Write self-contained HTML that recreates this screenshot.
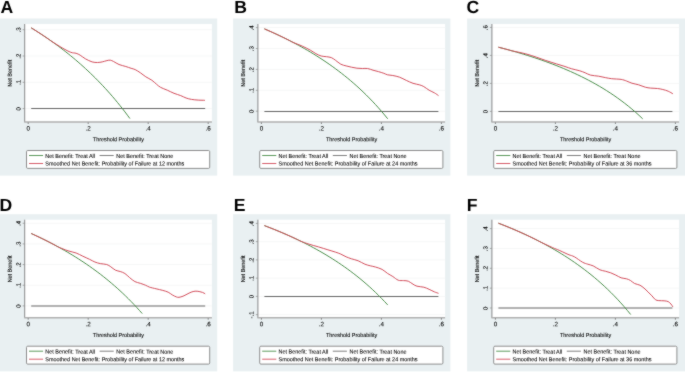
<!DOCTYPE html><html><head><meta charset="utf-8"><style>html,body{margin:0;padding:0;background:#fff;}svg{display:block;will-change:transform;}text{font-family:"Liberation Sans", sans-serif;text-rendering:geometricPrecision;stroke:#000;stroke-width:0.08px;}</style></head><body>
<svg width="685" height="372" viewBox="0 0 685 372">
<defs><filter id="soft" filterUnits="userSpaceOnUse" x="0" y="0" width="685" height="372" color-interpolation-filters="sRGB"><feConvolveMatrix order="3" kernelMatrix="1 2 1 2 20 2 1 2 1" edgeMode="duplicate" preserveAlpha="true"/></filter></defs><g filter="url(#soft)">
<rect x="0" y="0" width="685" height="372" fill="#fff"/>
<g><rect x="-0.10" y="18.50" width="217.3" height="157.1" fill="#e9f0f2"/><rect x="25.00" y="24.00" width="186.90" height="97.60" fill="#fff"/><line x1="25.00" y1="108.60" x2="211.90" y2="108.60" stroke="#f6f7f7" stroke-width="1"/><line x1="25.00" y1="82.30" x2="211.90" y2="82.30" stroke="#f6f7f7" stroke-width="1"/><line x1="25.00" y1="56.00" x2="211.90" y2="56.00" stroke="#f6f7f7" stroke-width="1"/><line x1="25.00" y1="29.70" x2="211.90" y2="29.70" stroke="#f6f7f7" stroke-width="1"/><line x1="31.20" y1="108.50" x2="205.20" y2="108.50" stroke="#666" stroke-width="1.0"/><polyline points="31.20,27.84 33.67,29.37 36.13,30.92 38.60,32.50 41.07,34.10 43.54,35.74 46.01,37.40 48.47,39.09 50.94,40.82 53.41,42.57 55.88,44.35 58.34,46.17 60.81,48.02 63.28,49.91 65.75,51.83 68.21,53.78 70.68,55.78 73.15,57.81 75.62,59.89 78.08,62.00 80.55,64.16 83.02,66.36 85.48,68.60 87.95,70.89 90.42,73.23 92.89,75.61 95.36,78.05 97.82,80.54 100.29,83.09 102.76,85.69 105.23,88.34 107.69,91.06 110.16,93.84 112.63,96.68 115.10,99.58 117.56,102.56 120.03,105.61 122.50,108.72 124.97,111.92 127.43,115.19 129.90,118.55" fill="none" stroke="#4a8e4a" stroke-width="1.0"/><path d="M31.20,27.84 C31.63,28.11 32.93,28.91 33.80,29.45 C34.67,29.99 35.53,30.54 36.40,31.09 C37.27,31.64 38.13,32.19 39.00,32.76 C39.87,33.32 40.73,33.88 41.60,34.45 C42.47,35.02 43.33,35.60 44.20,36.18 C45.07,36.76 45.93,37.35 46.80,37.94 C47.67,38.54 48.53,39.13 49.40,39.74 C50.27,40.34 49.78,40.15 52.00,41.56 C54.22,42.98 59.57,46.41 62.70,48.20 C65.83,49.99 68.57,51.45 70.80,52.30 C73.03,53.15 74.53,52.82 76.10,53.30 C77.67,53.78 78.65,54.28 80.20,55.20 C81.75,56.12 83.42,57.68 85.40,58.80 C87.38,59.92 90.08,61.28 92.10,61.90 C94.12,62.52 95.82,62.50 97.50,62.50 C99.18,62.50 100.63,62.22 102.20,61.90 C103.77,61.58 105.55,60.88 106.90,60.60 C108.25,60.32 109.18,60.05 110.30,60.20 C111.42,60.35 112.15,60.78 113.60,61.50 C115.05,62.22 116.97,63.67 119.00,64.50 C121.03,65.33 123.78,65.87 125.80,66.50 C127.82,67.13 129.53,67.78 131.10,68.30 C132.67,68.82 133.65,68.85 135.20,69.60 C136.75,70.35 138.63,71.60 140.40,72.80 C142.17,74.00 143.90,75.57 145.80,76.80 C147.70,78.03 150.02,78.97 151.80,80.20 C153.58,81.43 155.05,83.02 156.50,84.20 C157.95,85.38 158.70,86.30 160.50,87.30 C162.30,88.30 165.05,89.20 167.30,90.20 C169.55,91.20 171.77,92.40 174.00,93.30 C176.23,94.20 178.68,94.82 180.70,95.60 C182.72,96.38 184.30,97.37 186.10,98.00 C187.90,98.63 189.48,99.05 191.50,99.40 C193.52,99.75 195.97,99.95 198.20,100.10 C200.43,100.25 203.78,100.27 204.90,100.30" fill="none" stroke="#d24c5a" stroke-width="1.0"/><line x1="24.70" y1="24.00" x2="24.70" y2="122.10" stroke="#8a8a8a" stroke-width="1"/><line x1="24.20" y1="122.00" x2="211.90" y2="122.00" stroke="#b0b0b0" stroke-width="1.6"/><line x1="22.60" y1="108.60" x2="24.70" y2="108.60" stroke="#8a8a8a" stroke-width="0.7"/><text x="0" y="0" transform="translate(20.40,108.80) rotate(-89.95)" font-size="6.1" text-anchor="middle" fill="#000">0</text><line x1="22.60" y1="82.30" x2="24.70" y2="82.30" stroke="#8a8a8a" stroke-width="0.7"/><text x="0" y="0" transform="translate(20.40,82.50) rotate(-89.95)" font-size="6.1" text-anchor="middle" fill="#000">.1</text><line x1="22.60" y1="56.00" x2="24.70" y2="56.00" stroke="#8a8a8a" stroke-width="0.7"/><text x="0" y="0" transform="translate(20.40,56.20) rotate(-89.95)" font-size="6.1" text-anchor="middle" fill="#000">.2</text><line x1="22.60" y1="29.70" x2="24.70" y2="29.70" stroke="#8a8a8a" stroke-width="0.7"/><text x="0" y="0" transform="translate(20.40,29.90) rotate(-89.95)" font-size="6.1" text-anchor="middle" fill="#000">.3</text><line x1="28.20" y1="122.40" x2="28.20" y2="124.00" stroke="#6a6a6a" stroke-width="0.8"/><text x="0" y="0" transform="translate(28.20,130.60) rotate(0.05)" font-size="6.3" text-anchor="middle" fill="#000">0</text><line x1="88.20" y1="122.40" x2="88.20" y2="124.00" stroke="#6a6a6a" stroke-width="0.8"/><text x="0" y="0" transform="translate(88.20,130.60) rotate(0.05)" font-size="6.3" text-anchor="middle" fill="#000">.2</text><line x1="148.20" y1="122.40" x2="148.20" y2="124.00" stroke="#6a6a6a" stroke-width="0.8"/><text x="0" y="0" transform="translate(148.20,130.60) rotate(0.05)" font-size="6.3" text-anchor="middle" fill="#000">.4</text><line x1="208.20" y1="122.40" x2="208.20" y2="124.00" stroke="#6a6a6a" stroke-width="0.8"/><text x="0" y="0" transform="translate(208.20,130.60) rotate(0.05)" font-size="6.3" text-anchor="middle" fill="#000">.6</text><text x="0" y="0" transform="translate(118.40,141.30) rotate(0.05)" font-size="5.8" text-anchor="middle" fill="#000" textLength="51.20" lengthAdjust="spacingAndGlyphs">Threshold Probability</text><text x="0" y="0" transform="translate(11.80,73.20) rotate(-89.95)" font-size="5.8" text-anchor="middle" fill="#000" textLength="26.96" lengthAdjust="spacingAndGlyphs">Net Benefit</text><rect x="26.50" y="150.50" width="183.20" height="17.90" rx="1.2" fill="#fff" stroke="#8e8e8e" stroke-width="1"/><line x1="29.00" y1="155.50" x2="43.10" y2="155.50" stroke="#4a8e4a" stroke-width="0.9"/><line x1="99.60" y1="155.50" x2="113.70" y2="155.50" stroke="#727272" stroke-width="0.9"/><line x1="29.00" y1="163.50" x2="43.10" y2="163.50" stroke="#d24c5a" stroke-width="0.9"/><text x="0" y="0" transform="translate(45.30,157.90) rotate(0.05)" font-size="5.8" text-anchor="start" fill="#000" textLength="49.68" lengthAdjust="spacingAndGlyphs">Net Benefit: Treat All</text><text x="0" y="0" transform="translate(116.30,157.90) rotate(0.05)" font-size="5.8" text-anchor="start" fill="#000" textLength="56.95" lengthAdjust="spacingAndGlyphs">Net Benefit: Treat None</text><text x="0" y="0" transform="translate(45.30,165.50) rotate(0.05)" font-size="5.8" text-anchor="start" fill="#000" textLength="139.05" lengthAdjust="spacingAndGlyphs">Smoothed Net Benefit: Probability of Failure at 12 months</text><text x="0.40" y="12.90" font-size="17.6" font-weight="bold" fill="#000" style="stroke:none">A</text></g>
<g><rect x="233.10" y="18.50" width="217.3" height="157.1" fill="#e9f0f2"/><rect x="258.20" y="24.00" width="186.90" height="97.60" fill="#fff"/><line x1="258.20" y1="111.20" x2="445.10" y2="111.20" stroke="#f6f7f7" stroke-width="1"/><line x1="258.20" y1="90.30" x2="445.10" y2="90.30" stroke="#f6f7f7" stroke-width="1"/><line x1="258.20" y1="69.40" x2="445.10" y2="69.40" stroke="#f6f7f7" stroke-width="1"/><line x1="258.20" y1="48.50" x2="445.10" y2="48.50" stroke="#f6f7f7" stroke-width="1"/><line x1="258.20" y1="27.60" x2="445.10" y2="27.60" stroke="#f6f7f7" stroke-width="1"/><line x1="264.40" y1="111.50" x2="438.40" y2="111.50" stroke="#666" stroke-width="1.0"/><polyline points="264.40,28.87 267.48,30.20 270.56,31.55 273.65,32.94 276.73,34.35 279.81,35.80 282.89,37.28 285.98,38.79 289.06,40.34 292.14,41.92 295.22,43.54 298.31,45.19 301.39,46.89 304.47,48.62 307.55,50.40 310.64,52.22 313.72,54.09 316.80,56.00 319.88,57.97 322.97,59.98 326.05,62.05 329.13,64.17 332.21,66.35 335.30,68.58 338.38,70.88 341.46,73.25 344.54,75.68 347.63,78.18 350.71,80.76 353.79,83.41 356.88,86.14 359.96,88.95 363.04,91.86 366.12,94.85 369.20,97.94 372.29,101.13 375.37,104.43 378.45,107.83 381.53,111.36 384.62,115.00 387.70,118.78" fill="none" stroke="#4a8e4a" stroke-width="1.0"/><path d="M264.40,28.87 C265.00,29.12 266.78,29.89 267.97,30.41 C269.17,30.93 270.36,31.46 271.55,31.99 C272.74,32.52 273.93,33.06 275.12,33.61 C276.32,34.16 277.51,34.71 278.70,35.27 C279.89,35.83 281.08,36.40 282.27,36.98 C283.47,37.55 284.66,38.14 285.85,38.73 C287.04,39.32 288.23,39.92 289.43,40.52 C290.62,41.13 290.84,41.42 293.00,42.36 C295.16,43.31 299.50,44.89 302.40,46.20 C305.30,47.51 308.17,48.97 310.40,50.20 C312.63,51.43 314.00,52.63 315.80,53.60 C317.60,54.57 319.42,55.48 321.20,56.00 C322.98,56.52 324.82,56.43 326.50,56.70 C328.18,56.97 329.82,57.02 331.30,57.60 C332.78,58.18 333.82,59.10 335.40,60.20 C336.98,61.30 339.02,63.25 340.80,64.20 C342.58,65.15 344.32,65.40 346.10,65.90 C347.88,66.40 349.70,66.82 351.50,67.20 C353.30,67.58 355.10,67.98 356.90,68.20 C358.70,68.42 360.52,68.45 362.30,68.50 C364.08,68.55 365.82,68.22 367.60,68.50 C369.38,68.78 371.20,69.68 373.00,70.20 C374.80,70.72 376.60,71.08 378.40,71.60 C380.20,72.12 382.28,72.77 383.80,73.30 C385.32,73.83 386.00,74.43 387.50,74.80 C389.00,75.17 390.78,75.10 392.80,75.50 C394.82,75.90 397.35,76.38 399.60,77.20 C401.85,78.02 404.07,79.38 406.30,80.40 C408.53,81.42 410.77,82.55 413.00,83.30 C415.23,84.05 417.90,84.35 419.70,84.90 C421.50,85.45 422.23,85.72 423.80,86.60 C425.37,87.48 427.32,89.15 429.10,90.20 C430.88,91.25 432.93,92.00 434.50,92.90 C436.07,93.80 437.83,95.15 438.50,95.60" fill="none" stroke="#d24c5a" stroke-width="1.0"/><line x1="257.90" y1="24.00" x2="257.90" y2="122.10" stroke="#8a8a8a" stroke-width="1"/><line x1="257.40" y1="122.00" x2="445.10" y2="122.00" stroke="#b0b0b0" stroke-width="1.6"/><line x1="255.80" y1="111.20" x2="257.90" y2="111.20" stroke="#8a8a8a" stroke-width="0.7"/><text x="0" y="0" transform="translate(253.60,111.40) rotate(-89.95)" font-size="6.1" text-anchor="middle" fill="#000">0</text><line x1="255.80" y1="90.30" x2="257.90" y2="90.30" stroke="#8a8a8a" stroke-width="0.7"/><text x="0" y="0" transform="translate(253.60,90.50) rotate(-89.95)" font-size="6.1" text-anchor="middle" fill="#000">.1</text><line x1="255.80" y1="69.40" x2="257.90" y2="69.40" stroke="#8a8a8a" stroke-width="0.7"/><text x="0" y="0" transform="translate(253.60,69.60) rotate(-89.95)" font-size="6.1" text-anchor="middle" fill="#000">.2</text><line x1="255.80" y1="48.50" x2="257.90" y2="48.50" stroke="#8a8a8a" stroke-width="0.7"/><text x="0" y="0" transform="translate(253.60,48.70) rotate(-89.95)" font-size="6.1" text-anchor="middle" fill="#000">.3</text><line x1="255.80" y1="27.60" x2="257.90" y2="27.60" stroke="#8a8a8a" stroke-width="0.7"/><text x="0" y="0" transform="translate(253.60,27.80) rotate(-89.95)" font-size="6.1" text-anchor="middle" fill="#000">.4</text><line x1="261.40" y1="122.40" x2="261.40" y2="124.00" stroke="#6a6a6a" stroke-width="0.8"/><text x="0" y="0" transform="translate(261.40,130.60) rotate(0.05)" font-size="6.3" text-anchor="middle" fill="#000">0</text><line x1="321.40" y1="122.40" x2="321.40" y2="124.00" stroke="#6a6a6a" stroke-width="0.8"/><text x="0" y="0" transform="translate(321.40,130.60) rotate(0.05)" font-size="6.3" text-anchor="middle" fill="#000">.2</text><line x1="381.40" y1="122.40" x2="381.40" y2="124.00" stroke="#6a6a6a" stroke-width="0.8"/><text x="0" y="0" transform="translate(381.40,130.60) rotate(0.05)" font-size="6.3" text-anchor="middle" fill="#000">.4</text><line x1="441.40" y1="122.40" x2="441.40" y2="124.00" stroke="#6a6a6a" stroke-width="0.8"/><text x="0" y="0" transform="translate(441.40,130.60) rotate(0.05)" font-size="6.3" text-anchor="middle" fill="#000">.6</text><text x="0" y="0" transform="translate(351.60,141.30) rotate(0.05)" font-size="5.8" text-anchor="middle" fill="#000" textLength="51.20" lengthAdjust="spacingAndGlyphs">Threshold Probability</text><text x="0" y="0" transform="translate(245.00,73.20) rotate(-89.95)" font-size="5.8" text-anchor="middle" fill="#000" textLength="26.96" lengthAdjust="spacingAndGlyphs">Net Benefit</text><rect x="259.70" y="150.50" width="183.20" height="17.90" rx="1.2" fill="#fff" stroke="#8e8e8e" stroke-width="1"/><line x1="262.20" y1="155.50" x2="276.30" y2="155.50" stroke="#4a8e4a" stroke-width="0.9"/><line x1="332.80" y1="155.50" x2="346.90" y2="155.50" stroke="#727272" stroke-width="0.9"/><line x1="262.20" y1="163.50" x2="276.30" y2="163.50" stroke="#d24c5a" stroke-width="0.9"/><text x="0" y="0" transform="translate(278.50,157.90) rotate(0.05)" font-size="5.8" text-anchor="start" fill="#000" textLength="49.68" lengthAdjust="spacingAndGlyphs">Net Benefit: Treat All</text><text x="0" y="0" transform="translate(349.50,157.90) rotate(0.05)" font-size="5.8" text-anchor="start" fill="#000" textLength="56.95" lengthAdjust="spacingAndGlyphs">Net Benefit: Treat None</text><text x="0" y="0" transform="translate(278.50,165.50) rotate(0.05)" font-size="5.8" text-anchor="start" fill="#000" textLength="139.05" lengthAdjust="spacingAndGlyphs">Smoothed Net Benefit: Probability of Failure at 24 months</text><text x="234.20" y="12.90" font-size="17.6" font-weight="bold" fill="#000" style="stroke:none">B</text></g>
<g><rect x="467.10" y="18.50" width="220" height="157.1" fill="#e9f0f2"/><rect x="492.20" y="24.00" width="186.90" height="97.60" fill="#fff"/><line x1="492.20" y1="111.40" x2="679.10" y2="111.40" stroke="#f6f7f7" stroke-width="1"/><line x1="492.20" y1="83.40" x2="679.10" y2="83.40" stroke="#f6f7f7" stroke-width="1"/><line x1="492.20" y1="55.40" x2="679.10" y2="55.40" stroke="#f6f7f7" stroke-width="1"/><line x1="492.20" y1="27.40" x2="679.10" y2="27.40" stroke="#f6f7f7" stroke-width="1"/><line x1="498.40" y1="111.50" x2="672.40" y2="111.50" stroke="#666" stroke-width="1.0"/><polyline points="498.40,47.20 502.01,48.13 505.61,49.09 509.22,50.06 512.83,51.07 516.44,52.10 520.04,53.16 523.65,54.24 527.26,55.36 530.87,56.50 534.48,57.68 538.08,58.89 541.69,60.13 545.30,61.41 548.90,62.73 552.51,64.08 556.12,65.48 559.73,66.92 563.34,68.41 566.94,69.94 570.55,71.52 574.16,73.15 577.76,74.84 581.37,76.58 584.98,78.39 588.59,80.25 592.19,82.18 595.80,84.19 599.41,86.26 603.02,88.42 606.62,90.65 610.23,92.98 613.84,95.39 617.45,97.91 621.05,100.52 624.66,103.25 628.27,106.10 631.88,109.07 635.48,112.17 639.09,115.42 642.70,118.83" fill="none" stroke="#4a8e4a" stroke-width="1.0"/><path d="M498.40,47.20 C498.68,47.27 499.53,47.49 500.10,47.63 C500.67,47.78 501.23,47.93 501.80,48.08 C502.37,48.22 502.93,48.37 503.50,48.52 C504.07,48.67 504.63,48.82 505.20,48.97 C505.77,49.13 506.33,49.28 506.90,49.43 C507.47,49.58 508.03,49.74 508.60,49.89 C509.17,50.05 509.73,50.20 510.30,50.36 C510.87,50.52 509.45,50.26 512.00,50.84 C514.55,51.41 521.53,52.74 525.60,53.80 C529.67,54.86 533.03,56.08 536.40,57.20 C539.77,58.32 542.45,59.38 545.80,60.50 C549.15,61.62 553.30,62.90 556.50,63.90 C559.70,64.90 562.47,65.68 565.00,66.50 C567.53,67.32 569.23,68.08 571.70,68.80 C574.17,69.52 577.55,70.13 579.80,70.80 C582.05,71.47 583.42,72.08 585.20,72.80 C586.98,73.52 588.27,74.53 590.50,75.10 C592.73,75.67 596.13,75.78 598.60,76.20 C601.07,76.62 603.12,77.18 605.30,77.60 C607.48,78.02 609.07,78.40 611.70,78.70 C614.33,79.00 618.63,79.02 621.10,79.40 C623.57,79.78 624.70,80.37 626.50,81.00 C628.30,81.63 629.88,82.57 631.90,83.20 C633.92,83.83 636.37,84.13 638.60,84.80 C640.83,85.47 643.28,86.65 645.30,87.20 C647.32,87.75 648.68,87.88 650.70,88.10 C652.72,88.32 655.38,88.27 657.40,88.50 C659.42,88.73 661.00,89.05 662.80,89.50 C664.60,89.95 666.52,90.48 668.20,91.20 C669.88,91.92 672.12,93.37 672.90,93.80" fill="none" stroke="#d24c5a" stroke-width="1.0"/><line x1="491.90" y1="24.00" x2="491.90" y2="122.10" stroke="#8a8a8a" stroke-width="1"/><line x1="491.40" y1="122.00" x2="679.10" y2="122.00" stroke="#b0b0b0" stroke-width="1.6"/><line x1="489.80" y1="111.40" x2="491.90" y2="111.40" stroke="#8a8a8a" stroke-width="0.7"/><text x="0" y="0" transform="translate(487.60,111.60) rotate(-89.95)" font-size="6.1" text-anchor="middle" fill="#000">0</text><line x1="489.80" y1="83.40" x2="491.90" y2="83.40" stroke="#8a8a8a" stroke-width="0.7"/><text x="0" y="0" transform="translate(487.60,83.60) rotate(-89.95)" font-size="6.1" text-anchor="middle" fill="#000">.2</text><line x1="489.80" y1="55.40" x2="491.90" y2="55.40" stroke="#8a8a8a" stroke-width="0.7"/><text x="0" y="0" transform="translate(487.60,55.60) rotate(-89.95)" font-size="6.1" text-anchor="middle" fill="#000">.4</text><line x1="489.80" y1="27.40" x2="491.90" y2="27.40" stroke="#8a8a8a" stroke-width="0.7"/><text x="0" y="0" transform="translate(487.60,27.60) rotate(-89.95)" font-size="6.1" text-anchor="middle" fill="#000">.6</text><line x1="495.40" y1="122.40" x2="495.40" y2="124.00" stroke="#6a6a6a" stroke-width="0.8"/><text x="0" y="0" transform="translate(495.40,130.60) rotate(0.05)" font-size="6.3" text-anchor="middle" fill="#000">0</text><line x1="555.40" y1="122.40" x2="555.40" y2="124.00" stroke="#6a6a6a" stroke-width="0.8"/><text x="0" y="0" transform="translate(555.40,130.60) rotate(0.05)" font-size="6.3" text-anchor="middle" fill="#000">.2</text><line x1="615.40" y1="122.40" x2="615.40" y2="124.00" stroke="#6a6a6a" stroke-width="0.8"/><text x="0" y="0" transform="translate(615.40,130.60) rotate(0.05)" font-size="6.3" text-anchor="middle" fill="#000">.4</text><line x1="675.40" y1="122.40" x2="675.40" y2="124.00" stroke="#6a6a6a" stroke-width="0.8"/><text x="0" y="0" transform="translate(675.40,130.60) rotate(0.05)" font-size="6.3" text-anchor="middle" fill="#000">.6</text><text x="0" y="0" transform="translate(585.60,141.30) rotate(0.05)" font-size="5.8" text-anchor="middle" fill="#000" textLength="51.20" lengthAdjust="spacingAndGlyphs">Threshold Probability</text><text x="0" y="0" transform="translate(479.00,73.20) rotate(-89.95)" font-size="5.8" text-anchor="middle" fill="#000" textLength="26.96" lengthAdjust="spacingAndGlyphs">Net Benefit</text><rect x="493.70" y="150.50" width="183.20" height="17.90" rx="1.2" fill="#fff" stroke="#8e8e8e" stroke-width="1"/><line x1="496.20" y1="155.50" x2="510.30" y2="155.50" stroke="#4a8e4a" stroke-width="0.9"/><line x1="566.80" y1="155.50" x2="580.90" y2="155.50" stroke="#727272" stroke-width="0.9"/><line x1="496.20" y1="163.50" x2="510.30" y2="163.50" stroke="#d24c5a" stroke-width="0.9"/><text x="0" y="0" transform="translate(512.50,157.90) rotate(0.05)" font-size="5.8" text-anchor="start" fill="#000" textLength="49.68" lengthAdjust="spacingAndGlyphs">Net Benefit: Treat All</text><text x="0" y="0" transform="translate(583.50,157.90) rotate(0.05)" font-size="5.8" text-anchor="start" fill="#000" textLength="56.95" lengthAdjust="spacingAndGlyphs">Net Benefit: Treat None</text><text x="0" y="0" transform="translate(512.50,165.50) rotate(0.05)" font-size="5.8" text-anchor="start" fill="#000" textLength="139.05" lengthAdjust="spacingAndGlyphs">Smoothed Net Benefit: Probability of Failure at 36 months</text><text x="466.60" y="12.90" font-size="17.6" font-weight="bold" fill="#000" style="stroke:none">C</text></g>
<g><rect x="-0.10" y="214.20" width="217.3" height="157.1" fill="#e9f0f2"/><rect x="25.00" y="219.70" width="186.90" height="97.60" fill="#fff"/><line x1="25.00" y1="305.90" x2="211.90" y2="305.90" stroke="#f6f7f7" stroke-width="1"/><line x1="25.00" y1="285.24" x2="211.90" y2="285.24" stroke="#f6f7f7" stroke-width="1"/><line x1="25.00" y1="264.58" x2="211.90" y2="264.58" stroke="#f6f7f7" stroke-width="1"/><line x1="25.00" y1="243.92" x2="211.90" y2="243.92" stroke="#f6f7f7" stroke-width="1"/><line x1="25.00" y1="223.26" x2="211.90" y2="223.26" stroke="#f6f7f7" stroke-width="1"/><line x1="31.20" y1="306.00" x2="205.20" y2="306.00" stroke="#666" stroke-width="1.0"/><polyline points="31.20,233.49 33.98,234.75 36.75,236.04 39.52,237.36 42.30,238.70 45.08,240.06 47.85,241.45 50.62,242.88 53.40,244.33 56.17,245.81 58.95,247.32 61.72,248.86 64.50,250.43 67.28,252.04 70.05,253.68 72.83,255.36 75.60,257.07 78.38,258.82 81.15,260.62 83.93,262.45 86.70,264.32 89.47,266.24 92.25,268.21 95.03,270.22 97.80,272.27 100.58,274.38 103.35,276.54 106.12,278.76 108.90,281.03 111.67,283.36 114.45,285.75 117.23,288.20 120.00,290.72 122.77,293.30 125.55,295.96 128.32,298.69 131.10,301.50 133.88,304.38 136.65,307.36 139.43,310.41 142.20,313.56" fill="none" stroke="#4a8e4a" stroke-width="1.0"/><path d="M31.20,233.49 C31.77,233.75 33.48,234.52 34.62,235.05 C35.77,235.58 36.91,236.11 38.05,236.65 C39.19,237.19 40.33,237.74 41.48,238.29 C42.62,238.85 43.76,239.41 44.90,239.97 C46.04,240.54 47.18,241.12 48.33,241.70 C49.47,242.28 50.61,242.86 51.75,243.46 C52.89,244.06 54.03,244.66 55.17,245.27 C56.32,245.88 56.46,246.20 58.60,247.12 C60.74,248.05 65.08,249.82 68.00,250.80 C70.92,251.78 73.63,252.10 76.10,253.00 C78.57,253.90 80.57,255.15 82.80,256.20 C85.03,257.25 87.48,258.33 89.50,259.30 C91.52,260.27 93.10,261.28 94.90,262.00 C96.70,262.72 98.33,263.18 100.30,263.60 C102.27,264.02 104.95,263.97 106.70,264.50 C108.45,265.03 109.33,265.85 110.80,266.80 C112.27,267.75 113.93,269.42 115.50,270.20 C117.07,270.98 118.63,270.95 120.20,271.50 C121.77,272.05 123.33,272.48 124.90,273.50 C126.47,274.52 127.93,276.25 129.60,277.60 C131.27,278.95 133.12,280.65 134.90,281.60 C136.68,282.55 138.50,282.68 140.30,283.30 C142.10,283.92 144.18,284.67 145.70,285.30 C147.22,285.93 147.67,286.52 149.40,287.10 C151.13,287.68 153.87,288.25 156.10,288.80 C158.33,289.35 160.78,289.83 162.80,290.40 C164.82,290.97 166.62,291.45 168.20,292.20 C169.78,292.95 170.95,294.12 172.30,294.90 C173.65,295.68 175.18,296.50 176.30,296.90 C177.42,297.30 177.88,297.42 179.00,297.30 C180.12,297.18 181.67,296.72 183.00,296.20 C184.33,295.68 185.65,294.87 187.00,294.20 C188.35,293.53 189.75,292.70 191.10,292.20 C192.45,291.70 193.77,291.32 195.10,291.20 C196.43,291.08 197.87,291.30 199.10,291.50 C200.33,291.70 201.48,292.02 202.50,292.40 C203.52,292.78 204.75,293.57 205.20,293.80" fill="none" stroke="#d24c5a" stroke-width="1.0"/><line x1="24.70" y1="219.70" x2="24.70" y2="317.80" stroke="#8a8a8a" stroke-width="1"/><line x1="24.20" y1="317.70" x2="211.90" y2="317.70" stroke="#b0b0b0" stroke-width="1.6"/><line x1="22.60" y1="305.90" x2="24.70" y2="305.90" stroke="#8a8a8a" stroke-width="0.7"/><text x="0" y="0" transform="translate(20.40,306.10) rotate(-89.95)" font-size="6.1" text-anchor="middle" fill="#000">0</text><line x1="22.60" y1="285.24" x2="24.70" y2="285.24" stroke="#8a8a8a" stroke-width="0.7"/><text x="0" y="0" transform="translate(20.40,285.44) rotate(-89.95)" font-size="6.1" text-anchor="middle" fill="#000">.1</text><line x1="22.60" y1="264.58" x2="24.70" y2="264.58" stroke="#8a8a8a" stroke-width="0.7"/><text x="0" y="0" transform="translate(20.40,264.78) rotate(-89.95)" font-size="6.1" text-anchor="middle" fill="#000">.2</text><line x1="22.60" y1="243.92" x2="24.70" y2="243.92" stroke="#8a8a8a" stroke-width="0.7"/><text x="0" y="0" transform="translate(20.40,244.12) rotate(-89.95)" font-size="6.1" text-anchor="middle" fill="#000">.3</text><line x1="22.60" y1="223.26" x2="24.70" y2="223.26" stroke="#8a8a8a" stroke-width="0.7"/><text x="0" y="0" transform="translate(20.40,223.46) rotate(-89.95)" font-size="6.1" text-anchor="middle" fill="#000">.4</text><line x1="28.20" y1="318.10" x2="28.20" y2="319.70" stroke="#6a6a6a" stroke-width="0.8"/><text x="0" y="0" transform="translate(28.20,326.30) rotate(0.05)" font-size="6.3" text-anchor="middle" fill="#000">0</text><line x1="88.20" y1="318.10" x2="88.20" y2="319.70" stroke="#6a6a6a" stroke-width="0.8"/><text x="0" y="0" transform="translate(88.20,326.30) rotate(0.05)" font-size="6.3" text-anchor="middle" fill="#000">.2</text><line x1="148.20" y1="318.10" x2="148.20" y2="319.70" stroke="#6a6a6a" stroke-width="0.8"/><text x="0" y="0" transform="translate(148.20,326.30) rotate(0.05)" font-size="6.3" text-anchor="middle" fill="#000">.4</text><line x1="208.20" y1="318.10" x2="208.20" y2="319.70" stroke="#6a6a6a" stroke-width="0.8"/><text x="0" y="0" transform="translate(208.20,326.30) rotate(0.05)" font-size="6.3" text-anchor="middle" fill="#000">.6</text><text x="0" y="0" transform="translate(118.40,337.00) rotate(0.05)" font-size="5.8" text-anchor="middle" fill="#000" textLength="51.20" lengthAdjust="spacingAndGlyphs">Threshold Probability</text><text x="0" y="0" transform="translate(11.80,268.90) rotate(-89.95)" font-size="5.8" text-anchor="middle" fill="#000" textLength="26.96" lengthAdjust="spacingAndGlyphs">Net Benefit</text><rect x="26.50" y="346.20" width="183.20" height="17.90" rx="1.2" fill="#fff" stroke="#8e8e8e" stroke-width="1"/><line x1="29.00" y1="351.20" x2="43.10" y2="351.20" stroke="#4a8e4a" stroke-width="0.9"/><line x1="99.60" y1="351.20" x2="113.70" y2="351.20" stroke="#727272" stroke-width="0.9"/><line x1="29.00" y1="359.20" x2="43.10" y2="359.20" stroke="#d24c5a" stroke-width="0.9"/><text x="0" y="0" transform="translate(45.30,353.60) rotate(0.05)" font-size="5.8" text-anchor="start" fill="#000" textLength="49.68" lengthAdjust="spacingAndGlyphs">Net Benefit: Treat All</text><text x="0" y="0" transform="translate(116.30,353.60) rotate(0.05)" font-size="5.8" text-anchor="start" fill="#000" textLength="56.95" lengthAdjust="spacingAndGlyphs">Net Benefit: Treat None</text><text x="0" y="0" transform="translate(45.30,361.20) rotate(0.05)" font-size="5.8" text-anchor="start" fill="#000" textLength="139.05" lengthAdjust="spacingAndGlyphs">Smoothed Net Benefit: Probability of Failure at 12 months</text><text x="-0.60" y="211.40" font-size="17.6" font-weight="bold" fill="#000" style="stroke:none">D</text></g>
<g><rect x="233.10" y="214.20" width="217.3" height="157.1" fill="#e9f0f2"/><rect x="258.20" y="219.70" width="186.90" height="97.60" fill="#fff"/><line x1="258.20" y1="314.65" x2="445.10" y2="314.65" stroke="#f6f7f7" stroke-width="1"/><line x1="258.20" y1="296.40" x2="445.10" y2="296.40" stroke="#f6f7f7" stroke-width="1"/><line x1="258.20" y1="278.15" x2="445.10" y2="278.15" stroke="#f6f7f7" stroke-width="1"/><line x1="258.20" y1="259.90" x2="445.10" y2="259.90" stroke="#f6f7f7" stroke-width="1"/><line x1="258.20" y1="241.65" x2="445.10" y2="241.65" stroke="#f6f7f7" stroke-width="1"/><line x1="258.20" y1="223.40" x2="445.10" y2="223.40" stroke="#f6f7f7" stroke-width="1"/><line x1="264.40" y1="296.50" x2="438.40" y2="296.50" stroke="#666" stroke-width="1.0"/><polyline points="264.40,225.61 267.48,226.78 270.56,227.98 273.65,229.20 276.73,230.45 279.81,231.73 282.89,233.03 285.98,234.36 289.06,235.73 292.14,237.12 295.22,238.55 298.31,240.01 301.39,241.50 304.47,243.04 307.55,244.60 310.64,246.21 313.72,247.86 316.80,249.55 319.88,251.28 322.97,253.05 326.05,254.88 329.13,256.75 332.21,258.67 335.30,260.64 338.38,262.67 341.46,264.75 344.54,266.90 347.63,269.10 350.71,271.38 353.79,273.71 356.88,276.12 359.96,278.60 363.04,281.16 366.12,283.80 369.20,286.53 372.29,289.34 375.37,292.25 378.45,295.26 381.53,298.36 384.62,301.58 387.70,304.91" fill="none" stroke="#4a8e4a" stroke-width="1.0"/><path d="M264.40,225.61 C265.16,225.90 267.45,226.77 268.97,227.36 C270.50,227.95 272.02,228.55 273.55,229.16 C275.08,229.77 276.60,230.39 278.12,231.02 C279.65,231.66 281.18,232.30 282.70,232.95 C284.22,233.60 285.75,234.26 287.27,234.93 C288.80,235.61 290.33,236.29 291.85,236.99 C293.38,237.69 294.90,238.39 296.43,239.11 C297.95,239.83 298.89,240.47 301.00,241.31 C303.11,242.16 306.18,243.27 309.10,244.20 C312.02,245.13 315.37,245.97 318.50,246.90 C321.63,247.83 325.08,248.93 327.90,249.80 C330.72,250.67 333.25,251.38 335.40,252.10 C337.55,252.82 339.02,253.32 340.80,254.10 C342.58,254.88 344.32,256.02 346.10,256.80 C347.88,257.58 349.48,258.13 351.50,258.80 C353.52,259.47 355.97,259.90 358.20,260.80 C360.43,261.70 362.88,263.37 364.90,264.20 C366.92,265.03 368.55,265.33 370.30,265.80 C372.05,266.27 373.43,266.40 375.40,267.00 C377.37,267.60 380.08,268.33 382.10,269.40 C384.12,270.47 385.72,272.22 387.50,273.40 C389.28,274.58 391.02,275.37 392.80,276.50 C394.58,277.63 396.40,279.52 398.20,280.20 C400.00,280.88 401.92,280.43 403.60,280.60 C405.28,280.77 406.73,280.60 408.30,281.20 C409.87,281.80 411.55,283.37 413.00,284.20 C414.45,285.03 415.20,285.70 417.00,286.20 C418.80,286.70 421.78,286.68 423.80,287.20 C425.82,287.72 427.32,288.52 429.10,289.30 C430.88,290.08 432.93,291.23 434.50,291.90 C436.07,292.57 437.83,293.07 438.50,293.30" fill="none" stroke="#d24c5a" stroke-width="1.0"/><line x1="257.90" y1="219.70" x2="257.90" y2="317.80" stroke="#8a8a8a" stroke-width="1"/><line x1="257.40" y1="317.70" x2="445.10" y2="317.70" stroke="#b0b0b0" stroke-width="1.6"/><line x1="255.80" y1="314.65" x2="257.90" y2="314.65" stroke="#8a8a8a" stroke-width="0.7"/><text x="0" y="0" transform="translate(253.60,314.85) rotate(-89.95)" font-size="6.1" text-anchor="middle" fill="#000">-.1</text><line x1="255.80" y1="296.40" x2="257.90" y2="296.40" stroke="#8a8a8a" stroke-width="0.7"/><text x="0" y="0" transform="translate(253.60,296.60) rotate(-89.95)" font-size="6.1" text-anchor="middle" fill="#000">0</text><line x1="255.80" y1="278.15" x2="257.90" y2="278.15" stroke="#8a8a8a" stroke-width="0.7"/><text x="0" y="0" transform="translate(253.60,278.35) rotate(-89.95)" font-size="6.1" text-anchor="middle" fill="#000">.1</text><line x1="255.80" y1="259.90" x2="257.90" y2="259.90" stroke="#8a8a8a" stroke-width="0.7"/><text x="0" y="0" transform="translate(253.60,260.10) rotate(-89.95)" font-size="6.1" text-anchor="middle" fill="#000">.2</text><line x1="255.80" y1="241.65" x2="257.90" y2="241.65" stroke="#8a8a8a" stroke-width="0.7"/><text x="0" y="0" transform="translate(253.60,241.85) rotate(-89.95)" font-size="6.1" text-anchor="middle" fill="#000">.3</text><line x1="255.80" y1="223.40" x2="257.90" y2="223.40" stroke="#8a8a8a" stroke-width="0.7"/><text x="0" y="0" transform="translate(253.60,223.60) rotate(-89.95)" font-size="6.1" text-anchor="middle" fill="#000">.4</text><line x1="261.40" y1="318.10" x2="261.40" y2="319.70" stroke="#6a6a6a" stroke-width="0.8"/><text x="0" y="0" transform="translate(261.40,326.30) rotate(0.05)" font-size="6.3" text-anchor="middle" fill="#000">0</text><line x1="321.40" y1="318.10" x2="321.40" y2="319.70" stroke="#6a6a6a" stroke-width="0.8"/><text x="0" y="0" transform="translate(321.40,326.30) rotate(0.05)" font-size="6.3" text-anchor="middle" fill="#000">.2</text><line x1="381.40" y1="318.10" x2="381.40" y2="319.70" stroke="#6a6a6a" stroke-width="0.8"/><text x="0" y="0" transform="translate(381.40,326.30) rotate(0.05)" font-size="6.3" text-anchor="middle" fill="#000">.4</text><line x1="441.40" y1="318.10" x2="441.40" y2="319.70" stroke="#6a6a6a" stroke-width="0.8"/><text x="0" y="0" transform="translate(441.40,326.30) rotate(0.05)" font-size="6.3" text-anchor="middle" fill="#000">.6</text><text x="0" y="0" transform="translate(351.60,337.00) rotate(0.05)" font-size="5.8" text-anchor="middle" fill="#000" textLength="51.20" lengthAdjust="spacingAndGlyphs">Threshold Probability</text><text x="0" y="0" transform="translate(245.00,268.90) rotate(-89.95)" font-size="5.8" text-anchor="middle" fill="#000" textLength="26.96" lengthAdjust="spacingAndGlyphs">Net Benefit</text><rect x="259.70" y="346.20" width="183.20" height="17.90" rx="1.2" fill="#fff" stroke="#8e8e8e" stroke-width="1"/><line x1="262.20" y1="351.20" x2="276.30" y2="351.20" stroke="#4a8e4a" stroke-width="0.9"/><line x1="332.80" y1="351.20" x2="346.90" y2="351.20" stroke="#727272" stroke-width="0.9"/><line x1="262.20" y1="359.20" x2="276.30" y2="359.20" stroke="#d24c5a" stroke-width="0.9"/><text x="0" y="0" transform="translate(278.50,353.60) rotate(0.05)" font-size="5.8" text-anchor="start" fill="#000" textLength="49.68" lengthAdjust="spacingAndGlyphs">Net Benefit: Treat All</text><text x="0" y="0" transform="translate(349.50,353.60) rotate(0.05)" font-size="5.8" text-anchor="start" fill="#000" textLength="56.95" lengthAdjust="spacingAndGlyphs">Net Benefit: Treat None</text><text x="0" y="0" transform="translate(278.50,361.20) rotate(0.05)" font-size="5.8" text-anchor="start" fill="#000" textLength="139.05" lengthAdjust="spacingAndGlyphs">Smoothed Net Benefit: Probability of Failure at 24 months</text><text x="233.80" y="211.40" font-size="17.6" font-weight="bold" fill="#000" style="stroke:none">E</text></g>
<g><rect x="467.10" y="214.20" width="220" height="157.1" fill="#e9f0f2"/><rect x="492.20" y="219.70" width="186.90" height="97.60" fill="#fff"/><line x1="492.20" y1="308.00" x2="679.10" y2="308.00" stroke="#f6f7f7" stroke-width="1"/><line x1="492.20" y1="288.15" x2="679.10" y2="288.15" stroke="#f6f7f7" stroke-width="1"/><line x1="492.20" y1="268.30" x2="679.10" y2="268.30" stroke="#f6f7f7" stroke-width="1"/><line x1="492.20" y1="248.45" x2="679.10" y2="248.45" stroke="#f6f7f7" stroke-width="1"/><line x1="492.20" y1="228.60" x2="679.10" y2="228.60" stroke="#f6f7f7" stroke-width="1"/><line x1="498.40" y1="308.00" x2="672.40" y2="308.00" stroke="#666" stroke-width="1.0"/><polyline points="498.40,223.19 501.71,224.47 505.01,225.78 508.32,227.12 511.63,228.49 514.94,229.89 518.25,231.33 521.55,232.80 524.86,234.31 528.17,235.85 531.48,237.43 534.78,239.06 538.09,240.72 541.40,242.43 544.70,244.18 548.01,245.99 551.32,247.84 554.63,249.74 557.93,251.69 561.24,253.70 564.55,255.76 567.86,257.89 571.16,260.08 574.47,262.33 577.78,264.66 581.09,267.05 584.39,269.52 587.70,272.07 591.01,274.70 594.32,277.42 597.62,280.22 600.93,283.13 604.24,286.13 607.55,289.24 610.86,292.46 614.16,295.80 617.47,299.26 620.78,302.86 624.09,306.59 627.39,310.47 630.70,314.51" fill="none" stroke="#4a8e4a" stroke-width="1.0"/><path d="M498.40,223.19 C499.30,223.54 502.01,224.58 503.81,225.30 C505.62,226.01 507.42,226.74 509.23,227.49 C511.03,228.23 512.83,228.99 514.64,229.76 C516.44,230.53 518.25,231.32 520.05,232.13 C521.85,232.93 523.66,233.75 525.46,234.58 C527.27,235.42 529.07,236.27 530.88,237.14 C532.68,238.01 534.48,238.90 536.29,239.81 C538.09,240.72 539.00,241.29 541.70,242.59 C544.40,243.89 549.58,246.31 552.50,247.60 C555.42,248.89 557.12,249.40 559.20,250.30 C561.28,251.20 563.37,252.25 565.00,253.00 C566.63,253.75 567.43,254.17 569.00,254.80 C570.57,255.43 572.15,255.57 574.40,256.80 C576.65,258.03 580.27,260.97 582.50,262.20 C584.73,263.43 586.02,263.58 587.80,264.20 C589.58,264.82 591.18,264.97 593.20,265.90 C595.22,266.83 597.88,268.92 599.90,269.80 C601.92,270.68 603.50,270.70 605.30,271.20 C607.10,271.70 608.95,272.15 610.70,272.80 C612.45,273.45 614.07,274.27 615.80,275.10 C617.53,275.93 619.32,277.18 621.10,277.80 C622.88,278.42 624.93,278.35 626.50,278.80 C628.07,279.25 629.15,279.72 630.50,280.50 C631.85,281.28 633.03,282.72 634.60,283.50 C636.17,284.28 638.33,284.43 639.90,285.20 C641.47,285.97 642.65,286.98 644.00,288.10 C645.35,289.22 646.67,290.60 648.00,291.90 C649.33,293.20 650.77,294.60 652.00,295.90 C653.23,297.20 654.27,298.92 655.40,299.70 C656.53,300.48 657.35,300.42 658.80,300.60 C660.25,300.78 662.53,300.63 664.10,300.80 C665.67,300.97 667.07,301.07 668.20,301.60 C669.33,302.13 670.12,303.12 670.90,304.00 C671.68,304.88 672.57,306.42 672.90,306.90" fill="none" stroke="#d24c5a" stroke-width="1.0"/><line x1="491.90" y1="219.70" x2="491.90" y2="317.80" stroke="#8a8a8a" stroke-width="1"/><line x1="491.40" y1="317.70" x2="679.10" y2="317.70" stroke="#b0b0b0" stroke-width="1.6"/><line x1="489.80" y1="308.00" x2="491.90" y2="308.00" stroke="#8a8a8a" stroke-width="0.7"/><text x="0" y="0" transform="translate(487.60,308.20) rotate(-89.95)" font-size="6.1" text-anchor="middle" fill="#000">0</text><line x1="489.80" y1="288.15" x2="491.90" y2="288.15" stroke="#8a8a8a" stroke-width="0.7"/><text x="0" y="0" transform="translate(487.60,288.35) rotate(-89.95)" font-size="6.1" text-anchor="middle" fill="#000">.1</text><line x1="489.80" y1="268.30" x2="491.90" y2="268.30" stroke="#8a8a8a" stroke-width="0.7"/><text x="0" y="0" transform="translate(487.60,268.50) rotate(-89.95)" font-size="6.1" text-anchor="middle" fill="#000">.2</text><line x1="489.80" y1="248.45" x2="491.90" y2="248.45" stroke="#8a8a8a" stroke-width="0.7"/><text x="0" y="0" transform="translate(487.60,248.65) rotate(-89.95)" font-size="6.1" text-anchor="middle" fill="#000">.3</text><line x1="489.80" y1="228.60" x2="491.90" y2="228.60" stroke="#8a8a8a" stroke-width="0.7"/><text x="0" y="0" transform="translate(487.60,228.80) rotate(-89.95)" font-size="6.1" text-anchor="middle" fill="#000">.4</text><line x1="495.40" y1="318.10" x2="495.40" y2="319.70" stroke="#6a6a6a" stroke-width="0.8"/><text x="0" y="0" transform="translate(495.40,326.30) rotate(0.05)" font-size="6.3" text-anchor="middle" fill="#000">0</text><line x1="555.40" y1="318.10" x2="555.40" y2="319.70" stroke="#6a6a6a" stroke-width="0.8"/><text x="0" y="0" transform="translate(555.40,326.30) rotate(0.05)" font-size="6.3" text-anchor="middle" fill="#000">.2</text><line x1="615.40" y1="318.10" x2="615.40" y2="319.70" stroke="#6a6a6a" stroke-width="0.8"/><text x="0" y="0" transform="translate(615.40,326.30) rotate(0.05)" font-size="6.3" text-anchor="middle" fill="#000">.4</text><line x1="675.40" y1="318.10" x2="675.40" y2="319.70" stroke="#6a6a6a" stroke-width="0.8"/><text x="0" y="0" transform="translate(675.40,326.30) rotate(0.05)" font-size="6.3" text-anchor="middle" fill="#000">.6</text><text x="0" y="0" transform="translate(585.60,337.00) rotate(0.05)" font-size="5.8" text-anchor="middle" fill="#000" textLength="51.20" lengthAdjust="spacingAndGlyphs">Threshold Probability</text><text x="0" y="0" transform="translate(479.00,268.90) rotate(-89.95)" font-size="5.8" text-anchor="middle" fill="#000" textLength="26.96" lengthAdjust="spacingAndGlyphs">Net Benefit</text><rect x="493.70" y="346.20" width="183.20" height="17.90" rx="1.2" fill="#fff" stroke="#8e8e8e" stroke-width="1"/><line x1="496.20" y1="351.20" x2="510.30" y2="351.20" stroke="#4a8e4a" stroke-width="0.9"/><line x1="566.80" y1="351.20" x2="580.90" y2="351.20" stroke="#727272" stroke-width="0.9"/><line x1="496.20" y1="359.20" x2="510.30" y2="359.20" stroke="#d24c5a" stroke-width="0.9"/><text x="0" y="0" transform="translate(512.50,353.60) rotate(0.05)" font-size="5.8" text-anchor="start" fill="#000" textLength="49.68" lengthAdjust="spacingAndGlyphs">Net Benefit: Treat All</text><text x="0" y="0" transform="translate(583.50,353.60) rotate(0.05)" font-size="5.8" text-anchor="start" fill="#000" textLength="56.95" lengthAdjust="spacingAndGlyphs">Net Benefit: Treat None</text><text x="0" y="0" transform="translate(512.50,361.20) rotate(0.05)" font-size="5.8" text-anchor="start" fill="#000" textLength="139.05" lengthAdjust="spacingAndGlyphs">Smoothed Net Benefit: Probability of Failure at 36 months</text><text x="466.80" y="211.40" font-size="17.6" font-weight="bold" fill="#000" style="stroke:none">F</text></g>
</g>
</svg></body></html>
